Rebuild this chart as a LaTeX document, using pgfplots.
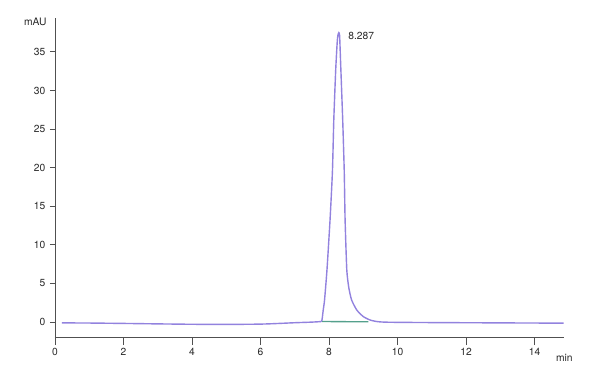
\documentclass[border=0pt]{standalone}
\usepackage{pgfplots}
\pgfplotsset{compat=1.18}
\usepackage{fontspec}
\setmainfont{TeX Gyre Heros}
\definecolor{trace}{RGB}{146,130,222}
\definecolor{basel}{RGB}{84,160,140}
\definecolor{axc}{RGB}{80,80,80}
\definecolor{txt}{RGB}{40,40,40}
\begin{document}
\begin{tikzpicture}
\begin{axis}[
  scale only axis,
  width=509.3bp, height=319bp,
  xmin=0, xmax=14.87, ymin=-1.95, ymax=39.4,
  axis x line*=bottom, axis y line*=left,
  axis line style={axc, line width=0.9bp},
  tick align=outside,
  xtick={0,2,...,14}, ytick={0,5,...,35},
  tick style={axc, line width=0.9bp},
  xtick style={/pgfplots/major tick length=8bp},
  ytick style={/pgfplots/major tick length=5bp},
  /pgf/number format/assume math mode=true,
  ticklabel style={font=\fontsize{10.3}{12}\selectfont, text=txt},
  xticklabel style={yshift=-3bp},
  yticklabel style={xshift=-2bp},
  clip=false,
]
\coordinate (O) at (rel axis cs:0,0);
\addplot[trace, line width=1.4bp, smooth, tension=0.35] coordinates {
(0.2,-0.12) (1,-0.14) (2,-0.19) (3,-0.25) (4,-0.3) (5,-0.32) (6,-0.28) (6.5,-0.2)
(7,-0.1) (7.5,-0.02) (7.72,0.04) (7.79,0.15) (7.83,1.5) (7.87,2.85) (7.94,6.7)
(8.03,13.2) (8.10,19.5) (8.14,26.2) (8.195,32.6) (8.24,36.3) (8.265,37.3) (8.287,37.5)
(8.31,37.1) (8.34,33.5) (8.40,26.2) (8.445,19.5) (8.47,13.2) (8.52,6.7) (8.58,4.4)
(8.66,2.85) (8.81,1.55) (9.0,0.7) (9.2,0.25) (9.4,0.05) (9.6,-0.02) (10,-0.05)
(11,-0.08) (12,-0.1) (13,-0.12) (14,-0.14) (14.85,-0.15)};
\addplot[basel, line width=1.3bp] coordinates {(7.8,0.05) (9.15,0.03)};
\node[anchor=west, text=txt, font=\fontsize{10.3}{12}\selectfont] at (axis cs:8.287,37.5) [xshift=6bp,yshift=-3bp] {8.287};
\node[anchor=east, text=txt, font=\fontsize{10.3}{12}\selectfont] at (rel axis cs:0,1) [xshift=-5bp,yshift=-4bp] {mAU};
\node[text=txt, font=\fontsize{10.3}{12}\selectfont] at (rel axis cs:1,0) [yshift=-21bp] {min};
\end{axis}
\pgfresetboundingbox
\path (O) ++(-55bp,-43bp) rectangle ++(600bp,380bp);
\end{tikzpicture}
\end{document}
